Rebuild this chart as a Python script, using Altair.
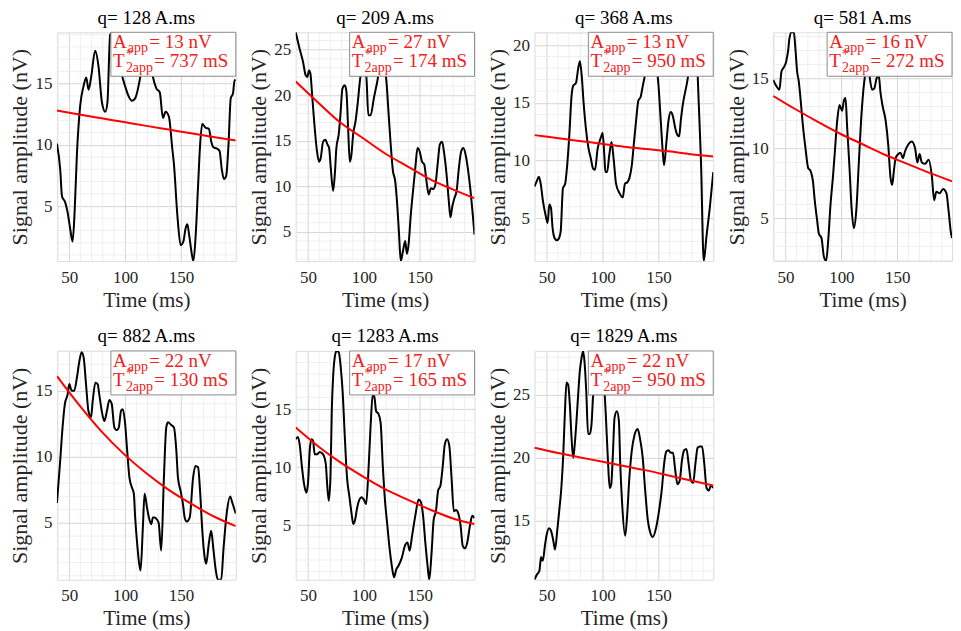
import altair as alt
import pandas as pd

FONT = "Liberation Serif"
RED = "#ff0000"
TXT_RED = "#f02020"

q_values = [128, 209, 368, 581, 882, 1283, 1829]
a_app = [13, 27, 13, 16, 22, 17, 22]
t2_app = [737, 174, 950, 272, 130, 165, 950]

x_domain = [39, 199]
x_ticks = [50, 100, 150]
x_minor = [40, 60, 70, 80, 90, 110, 120, 130, 140, 160, 170, 180, 190]

y_domains = [[0.5, 19.2], [1.8, 26.9], [1.3, 21.1], [1.95, 18.3],
             [0.7, 18.0], [0.3, 20.0], [10.3, 28.5]]
y_ticks = [[5, 10, 15], [5, 10, 15, 20, 25], [5, 10, 15, 20], [5, 10, 15],
           [5, 10, 15], [5, 10, 15], [15, 20, 25]]

# ---- measured signals (time ms, amplitude nV) ----
p1_t = [39, 42, 43.5, 46.4, 48.5, 50.9, 53, 54.8, 56.9, 59.8, 62.8, 65.2, 67.3, 69.7, 73.2, 76.2, 79.2, 82.2, 84.2, 86.6,
        89, 92, 95, 97, 100, 103, 106, 109, 112, 114, 117, 120, 123, 125, 128, 131, 133.8, 136.2, 139.2, 142.2,
        143.7, 146.7, 149.7, 152.1, 154.2, 155.7, 157.2, 159.3, 161.1, 163.2, 165.3, 167.1, 169, 172, 175, 177,
        179, 182, 184.5, 186.5, 188.5, 190.5, 192.5, 194.5, 196.5, 198, 199]
p1_s = [10.1, 7.9, 5.8, 5.3, 4.5, 3.1, 2.1, 4.5, 9.3, 13.2, 14.8, 15.5, 14.5, 15.6, 17.7, 16.4, 13.5, 12.7, 13.5, 19.0,
        19.2, 18.5, 17.0, 15.8, 14.8, 14.0, 13.6, 13.8, 14.8, 15.8, 17.5, 18.0, 16.5, 15.5, 14.6, 14.3, 12.2, 12.7, 12.3, 9.7,
        8.4, 4.3, 1.8, 2.1, 3.2, 3.5, 2.7, 1.3, 0.5, 2.7, 6.7, 10.0, 11.7, 11.4, 11.3, 10.3,
        9.8, 9.7, 9.5, 8.0, 7.2, 7.5, 10.0, 13.8, 14.2, 15.3, 15.2]

p2_t = [39, 42.5, 45.5, 47.9, 49.4, 50.9, 52.1, 53.9, 56, 58.1, 59.9, 61.4, 63.5, 65.6, 67.4, 68.9, 70.4, 72.5, 74, 75.4,
        77.5, 79, 80.8, 82.9, 84.4, 85.9, 87.4, 88.9, 90.4, 92.5, 94.3, 96.4, 98.5, 100.5, 102.5, 104, 106, 109, 112, 115,
        118, 120, 122, 124, 126, 128, 130, 131.5, 133, 135, 137, 138.5, 140, 142, 144, 146, 148, 150, 152, 154,
        156, 158, 160, 162, 164, 166, 168, 170, 172, 174, 176, 177.5, 179, 181, 183, 185, 187, 189, 191, 193,
        195, 197, 199]
p2_s = [26.9, 25.1, 23.7, 22.2, 22.0, 22.7, 22.4, 19.7, 16.4, 13.8, 12.7, 13.1, 14.9, 15.1, 14.6, 14.2, 12.0, 9.5, 11.3, 14.2,
        15.7, 17.8, 20.7, 21.1, 20.4, 16.4, 12.7, 13.5, 15.7, 17.1, 18.9, 21.5, 23.5, 24.5, 21.5, 17.8, 17.8, 19.7, 21.5, 23.5,
        23.0, 21.8, 18.2, 14.6, 11.7, 10.6, 7.7, 4.7, 1.8, 2.9, 4.0, 2.6, 3.6, 6.9, 9.5, 12.0, 14.2, 13.8, 12.7, 12.4,
        10.6, 9.1, 9.8, 9.7, 10.2, 12.4, 14.6, 14.9, 13.5, 11.3, 8.4, 6.6, 7.7, 8.7, 9.5, 12.0, 13.8, 14.2, 13.5, 12.0,
        10.0, 7.5, 4.7]

p3_t = [39, 41, 43, 44.6, 46.6, 48.9, 50.8, 52.3, 53.8, 55.2, 57, 59, 60.5, 62.5, 64.5, 66.5, 68.3, 70.2, 72.3, 73.8,
        76.1, 78.2, 79.7, 81.5, 82.9, 85, 87.3, 89.4, 91.5, 93.2, 95.5, 98.5, 100, 101.5, 102.5, 104, 106, 108, 110, 112,
        115, 118, 120, 122, 124, 126, 128, 130, 132, 134, 136, 138, 140, 142, 145, 148, 150, 152, 154, 155,
        157, 159, 161, 163, 165, 167, 168.5, 170, 172, 174, 176, 178, 180, 182, 184, 186, 188, 190.5, 193, 196, 199]
p3_s = [7.75, 8.2, 8.6, 8.0, 6.5, 5.3, 4.6, 6.2, 5.9, 4.2, 3.3, 3.1, 3.2, 3.9, 7.6, 8.0, 9.6, 12.2, 15.7, 16.5,
        16.7, 18.0, 18.6, 17.1, 15.1, 12.8, 11.1, 10.2, 9.3, 9.2, 11.0, 12.0, 12.4, 10.5, 9.0, 9.0, 10.5, 11.6, 10.0, 8.0,
        7.2, 6.8, 8.0, 8.1, 8.5, 9.5, 11.5, 13.5, 15.2, 15.5, 16.5, 17.5, 19.5, 21.1, 20.5, 18.5, 16.5, 13.5, 10.5, 9.6,
        11.5, 13.5, 14.2, 13.8, 12.8, 12.2, 12.1, 13.5, 15.0, 16.0, 17.0, 18.5, 19.5, 20.5, 19.5, 15.0, 10.0, 1.3, 3.5, 6.0, 9.0]

p4_t = [39, 41.9, 44.6, 46.4, 48.5, 50.6, 52.4, 53.6, 55.4, 57.5, 59, 60.4, 61.9, 63.4, 65.5, 67.9, 70.3, 72.4, 74.5, 76.3,
        78.4, 79.9, 82.2, 84.3, 86.4, 88.2, 90.3, 92.4, 94.2, 96.3, 98.4, 100.7, 102.2, 103.7, 105.2, 107.3, 109.1, 111.2, 113.3, 115.7,
        117.8, 119.6, 121.6, 123.5, 125.5, 127.5, 129.5, 131.5, 133.5, 135, 137, 139.6, 141.9, 144, 145.5, 147, 148.5, 150.9, 153, 155,
        157, 160, 163, 166, 168, 170, 172, 175, 178, 181, 183, 185, 188, 191, 194, 196, 198, 199]
p4_s = [14.9, 14.45, 14.2, 15.5, 15.8, 16.2, 17.0, 17.9, 18.3, 18.3, 17.0, 15.5, 14.8, 13.6, 11.7, 10.0, 8.6, 8.4, 7.7, 6.2,
        4.8, 3.9, 3.6, 2.3, 1.95, 3.4, 6.0, 7.9, 9.8, 12.0, 13.1, 12.7, 13.4, 13.6, 11.5, 8.6, 5.8, 4.3, 5.5, 9.1,
        12.2, 14.1, 15.5, 16.5, 15.0, 14.2, 14.3, 15.0, 15.2, 14.0, 13.0, 12.0, 10.3, 7.9, 7.4, 8.4, 9.3, 9.6, 9.7, 9.3,
        9.8, 10.3, 10.5, 10.0, 9.0, 9.6, 9.0, 8.9, 9.2, 8.0, 6.3, 6.9, 6.8, 7.1, 6.8, 5.5, 4.0, 3.6]

p5_t = [39, 41.9, 44, 46.1, 48.5, 50, 52.1, 54.5, 56.9, 59, 61.1, 62.9, 65, 67.1, 69.5, 71, 73.4, 75.4, 76.9, 79,
        81.4, 83.8, 85.9, 88, 90.4, 92.5, 94.3, 96.4, 97.9, 100, 101.8, 103.9, 106, 107.8, 109, 110.8, 112.6, 113.8, 115.9, 117.4,
        119.5, 121.3, 123.4, 124.9, 126.3, 128, 130, 132.3, 134.7, 136.8, 138.3, 141.3, 143.7, 145.8, 147.3, 149.7, 151.8, 153.3, 155, 157.8,
        160.8, 162.9, 165.3, 167, 169, 171, 172.5, 175, 177, 179, 181, 183, 186, 188, 191, 194, 196, 199]
p5_s = [6.5, 9.7, 12.2, 14.0, 14.7, 15.5, 15.0, 15.0, 16.0, 17.2, 17.9, 17.5, 15.5, 13.5, 13.0, 14.2, 15.6, 15.5, 14.7, 13.5,
        12.7, 13.5, 14.3, 14.0, 12.2, 12.0, 12.2, 13.5, 13.6, 12.5, 10.5, 8.4, 7.7, 7.2, 5.4, 3.4, 1.9, 1.4, 4.7, 7.2,
        6.2, 5.4, 4.9, 5.4, 5.4, 5.3, 5.0, 2.9, 8.4, 12.2, 12.6, 12.4, 12.2, 10.5, 8.4, 7.4, 6.4, 5.4, 5.1, 5.4,
        8.4, 9.3, 9.2, 7.5, 4.5, 2.5, 1.9, 3.5, 4.4, 3.0, 1.5, 0.7, 0.7, 3.0, 5.8, 7.0, 6.5, 5.7]

p6_t = [39, 41, 42.5, 44.6, 46.4, 48.5, 50, 51.5, 53, 54.5, 56, 58.1, 60.5, 63.5, 65.9, 67.1, 68.6, 70.1, 71.3, 72.5,
        74, 75.5, 77.5, 79.3, 81, 83, 85, 87, 89, 90.5, 92, 94, 96, 98, 100, 102, 104, 106, 108, 109.5,
        111, 113, 115, 117, 119, 121, 123, 125, 127, 129, 131, 134, 137, 139, 141, 143, 146, 149, 151, 153,
        155, 157, 158.5, 160.5, 162.5, 164.5, 166.5, 168.5, 170.5, 172.5, 174.5, 176.5, 178.5, 180.5, 182.5, 184.5, 186.5, 188.5, 190.5, 192.5,
        195, 197, 199]
p6_s = [12.4, 12.6, 12.0, 10.0, 8.6, 7.8, 8.6, 11.4, 12.4, 12.3, 11.1, 11.1, 11.3, 11.1, 10.3, 8.6, 7.1, 9.1, 14.9, 17.8,
        19.5, 20.0, 19.9, 18.6, 16.5, 12.5, 9.0, 7.5, 6.0, 5.1, 5.4, 6.5, 7.2, 7.4, 7.2, 6.8, 9.5, 13.5, 16.3, 16.0,
        14.8, 14.6, 13.8, 10.0, 7.0, 5.0, 3.0, 1.5, 0.5, 1.2, 1.5, 2.2, 3.3, 3.5, 2.8, 4.0, 5.8, 7.2, 7.0, 5.8,
        3.5, 1.5, 0.3, 2.5, 5.5, 6.2, 8.0, 8.4, 10.0, 12.0, 12.4, 11.8, 9.0, 6.2, 6.3, 6.0, 5.0, 3.2, 3.0, 3.5,
        5.0, 5.8, 5.6]

p7_t = [39, 41.1, 43.4, 44.9, 46.4, 48.5, 50, 52, 53.8, 55.9, 57.4, 59.4, 61.2, 63.3, 64.8, 66.3, 67.7, 69.2, 70.7, 72.2,
        73.7, 75.1, 76.6, 78.1, 79.6, 81.1, 82.6, 84, 85.5, 87, 88.5, 90, 91.4, 92.9, 95, 97.4, 100.9, 102.7, 104.8, 106.3,
        107.7, 109.2, 110.7, 112.8, 114.6, 115.7, 117.5, 120.2, 122, 124, 126, 128.5, 131.4, 133.5, 135.9, 138, 140.5, 142.8, 144.8, 148,
        150, 153, 155, 157, 159, 161, 163, 165, 167, 169, 171, 173, 175, 177, 179, 181, 183, 185, 187, 189,
        191, 193, 195, 197, 199]
p7_s = [10.3, 10.7, 11.0, 12.1, 11.8, 13.1, 13.9, 14.4, 14.2, 13.4, 12.7, 14.2, 15.8, 17.9, 20.3, 23.7, 26.0, 25.8, 24.2, 21.6,
        20.0, 21.1, 22.9, 25.0, 26.9, 27.9, 28.5, 27.4, 25.0, 21.9, 21.9, 22.6, 24.8, 26.3, 27.5, 27.7, 26.3, 23.7, 19.7, 17.6,
        17.9, 20.3, 23.2, 23.7, 22.9, 19.7, 16.3, 13.8, 15.5, 18.5, 20.5, 21.8, 22.3, 21.5, 20.0, 17.5, 15.0, 14.0, 13.7, 14.5,
        15.5, 17.5, 19.5, 20.5, 20.6, 20.4, 20.4, 19.0, 17.9, 18.2, 19.8, 20.6, 20.7, 19.5, 18.2, 18.0, 19.5, 20.8, 20.9, 20.9,
        19.5, 17.6, 17.4, 17.8, 17.6]

signals_t = [p1_t, p2_t, p3_t, p4_t, p5_t, p6_t, p7_t]
signals_s = [p1_s, p2_s, p3_s, p4_s, p5_s, p6_s, p7_s]

# ---- fitted curves ----
fit_t = [39, 59, 79, 99, 119, 139, 159, 179, 199]
fit_vals = [
    [12.8, 12.48, 12.17, 11.86, 11.55, 11.25, 10.95, 10.65, 10.35],
    [21.5, 19.2, 17.0, 15.3, 13.6, 12.2, 10.8, 9.7, 8.7],
    [12.2, 11.95, 11.7, 11.45, 11.2, 11.0, 10.8, 10.55, 10.35],
    [13.75, 12.8, 11.9, 11.05, 10.3, 9.55, 8.9, 8.25, 7.65],
    [16.1, 13.9, 11.9, 10.2, 8.75, 7.5, 6.45, 5.5, 4.75],
    [13.4, 11.8, 10.4, 9.2, 8.1, 7.2, 6.35, 5.6, 5.1],
    [20.8, 20.4, 20.05, 19.7, 19.35, 19.0, 18.6, 18.2, 17.8],
]

W, H = 179, 229
one = pd.DataFrame({"k": [0]})


def panel(i):
    xs = alt.Scale(domain=x_domain, nice=False, zero=False)
    ys = alt.Scale(domain=y_domains[i], nice=False, zero=False)
    xaxis = alt.Axis(values=x_ticks, title="Time (ms)", grid=True, gridColor="#d4d4d4",
                     ticks=False, domain=False, labelFont=FONT, labelFontSize=17,
                     labelColor="#262626", labelPadding=8, titleFont=FONT, titleFontSize=21,
                     titleFontWeight="normal", titleColor="#262626", titlePadding=4)
    yaxis = alt.Axis(values=y_ticks[i], title="Signal amplitude (nV)", grid=True,
                     gridColor="#d4d4d4", ticks=False, domain=False, labelFont=FONT,
                     labelFontSize=17, labelColor="#262626", labelPadding=5,
                     minExtent=22, maxExtent=22, titleFont=FONT, titleFontSize=22,
                     titleFontWeight="normal", titleColor="#262626", titlePadding=3)
    lo, hi = y_domains[i]
    y_minor = [v for v in range(int(lo) + 1, int(hi) + 1) if v % 5 != 0]

    black = alt.Chart(pd.DataFrame({"t": signals_t[i], "s": signals_s[i]})).mark_line(
        color="black", strokeWidth=2, interpolate="monotone", clip=True).encode(
        x=alt.X("t:Q", scale=xs, axis=xaxis), y=alt.Y("s:Q", scale=ys, axis=yaxis))

    mx = alt.Chart(pd.DataFrame({"t": x_minor})).mark_rule(
        color="#ebebeb", strokeWidth=0.8).encode(x=alt.X("t:Q", scale=xs, axis=xaxis))
    my = alt.Chart(pd.DataFrame({"s": y_minor})).mark_rule(
        color="#ebebeb", strokeWidth=0.8).encode(y=alt.Y("s:Q", scale=ys, axis=yaxis))

    red = alt.Chart(pd.DataFrame({"t": fit_t, "s": fit_vals[i]})).mark_line(
        color=RED, strokeWidth=2, interpolate="monotone", clip=True).encode(
        x=alt.X("t:Q", scale=xs, axis=xaxis), y=alt.Y("s:Q", scale=ys, axis=yaxis))

    box = alt.Chart(one).mark_rect(fill="white", stroke="#8c8c8c", strokeWidth=1).encode(
        x=alt.value(54), x2=alt.value(W), y=alt.value(0), y2=alt.value(44))

    def txt(s, x, y, size):
        return alt.Chart(one).mark_text(text=s, font=FONT, fontSize=size, color=TXT_RED,
                                        align="left", baseline="alphabetic").encode(
            x=alt.value(x), y=alt.value(y))

    texts = [
        txt("A", 56, 16, 19),
        txt("app", 71, 20, 14),
        txt(f"= {a_app[i]} nV", 92.5, 16, 19),
        txt("T", 56, 35, 19),
        txt("*", 69, 27, 14),
        txt("2app", 69, 40, 14),
        txt(f"= {t2_app[i]} mS", 97.5, 35, 19),
    ]

    return alt.layer(mx, my, black, red, box, *texts).properties(
        width=W, height=H,
        title=alt.TitleParams(text=f"q= {q_values[i]} A.ms", font=FONT, fontSize=19,
                              fontWeight="normal", color="black", frame="group",
                              anchor="middle", offset=4))


panels = [panel(i) for i in range(7)]
row1 = alt.hconcat(*panels[:4], spacing=10)
row2 = alt.hconcat(*panels[4:], spacing=10)
chart = alt.vconcat(row1, row2, spacing=16).configure_view(
    stroke="#8c8c8c", strokeWidth=1).configure(background="white").properties(
    padding={"left": 0, "top": 0, "right": 0, "bottom": 0})

chart.save("out.html", embed_options={"renderer": "svg", "actions": False})
